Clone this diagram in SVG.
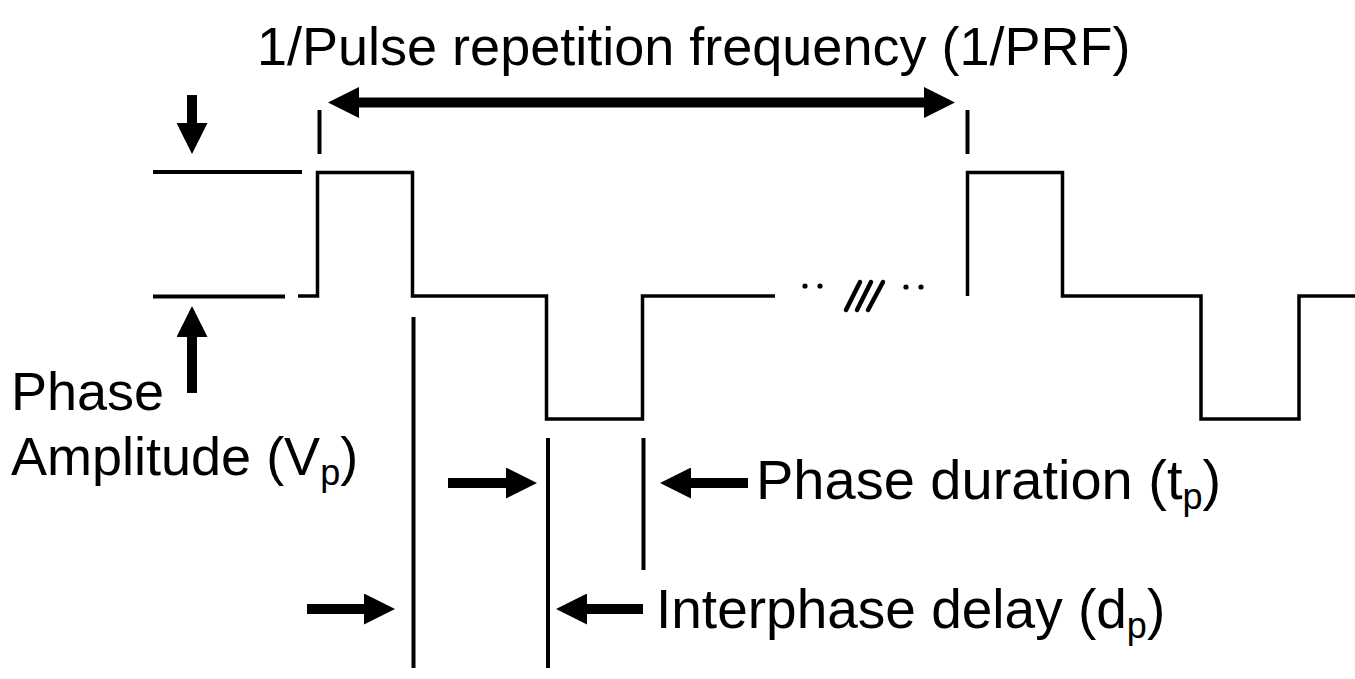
<svg xmlns="http://www.w3.org/2000/svg" width="1355" height="679" viewBox="0 0 1355 679">
<defs>
<style>
.t{font-family:"Liberation Sans",Arial,sans-serif;font-size:54px;fill:#000}
.sub{font-size:36px;fill:#000}
.wave{fill:none;stroke:#000;stroke-width:3.5;stroke-linejoin:miter;stroke-linecap:butt}
.thin{stroke:#000;stroke-width:4;fill:none}
.slash{stroke:#000;stroke-width:4.5;fill:none;stroke-linecap:round}
.shaft{stroke:#000;stroke-width:10;fill:none}
</style>
<marker id="ah" markerUnits="userSpaceOnUse" viewBox="0 0 31 31" refX="0" refY="15.5" markerWidth="31" markerHeight="31" orient="auto-start-reverse">
<path d="M0,0 L31,15.5 L0,31 Z" fill="#000"/>
</marker>
</defs>
<rect width="1355" height="679" fill="#fff"/>
<g id="waveform">
<path class="wave" d="M298,296 H317.5 V172.5 H412.5 V296 H546.5 V419 H642.5 V296 H775"/>
<path class="wave" d="M967.5,296 V172.5 H1062.5 V296 H1201 V419 H1299 V296 H1355"/>
</g>
<g id="break">
<circle cx="805" cy="286" r="2.6" fill="#000"/>
<circle cx="820" cy="286" r="2.6" fill="#000"/>
<line class="slash" x1="846" y1="310" x2="860" y2="282"/>
<line class="slash" x1="857" y1="310" x2="871" y2="282"/>
<line class="slash" x1="868" y1="310" x2="883" y2="282"/>
<circle cx="906" cy="287" r="2.6" fill="#000"/>
<circle cx="921" cy="287" r="2.6" fill="#000"/>
</g>
<g id="guides">
<line class="thin" x1="319.5" y1="110" x2="319.5" y2="154"/>
<line class="thin" x1="967.5" y1="110" x2="967.5" y2="154"/>
<line class="thin" x1="153" y1="172" x2="302" y2="172"/>
<line class="thin" x1="153" y1="296.5" x2="285" y2="296.5"/>
<line class="thin" x1="413.5" y1="317" x2="413.5" y2="668"/>
<line class="thin" x1="548" y1="438" x2="548" y2="668"/>
<line class="thin" x1="643.5" y1="438" x2="643.5" y2="570"/>
</g>
<g id="connectors">
<line class="shaft" x1="359" y1="102.5" x2="924" y2="102.5" marker-start="url(#ah)" marker-end="url(#ah)"/>
<line class="shaft" x1="192" y1="95" x2="192" y2="123" marker-end="url(#ah)"/>
<line class="shaft" x1="192" y1="393" x2="192" y2="337" marker-end="url(#ah)"/>
<line class="shaft" x1="448" y1="483" x2="506" y2="483" marker-end="url(#ah)"/>
<line class="shaft" x1="748" y1="483" x2="691" y2="483" marker-end="url(#ah)"/>
<line class="shaft" x1="307" y1="609" x2="364" y2="609" marker-end="url(#ah)"/>
<line class="shaft" x1="643" y1="609" x2="587" y2="609" marker-end="url(#ah)"/>
</g>
<g id="label-prf">
<text class="t" x="257" y="65">1/Pulse repetition frequency (1/PRF)</text>
</g>
<g id="label-amplitude">
<text class="t" x="11" y="410">Phase</text>
<text class="t" x="11" y="475">Amplitude (V<tspan class="sub" dy="10">p</tspan><tspan dy="-10">)</tspan></text>
</g>
<g id="label-duration">
<text class="t" x="756" y="499" style="font-size:56px">Phase duration (t<tspan class="sub" dy="10">p</tspan><tspan dy="-10">)</tspan></text>
</g>
<g id="label-delay">
<text class="t" x="656" y="628" style="font-size:55px">Interphase delay (d<tspan class="sub" dy="10">p</tspan><tspan dy="-10">)</tspan></text>
</g>
</svg>
